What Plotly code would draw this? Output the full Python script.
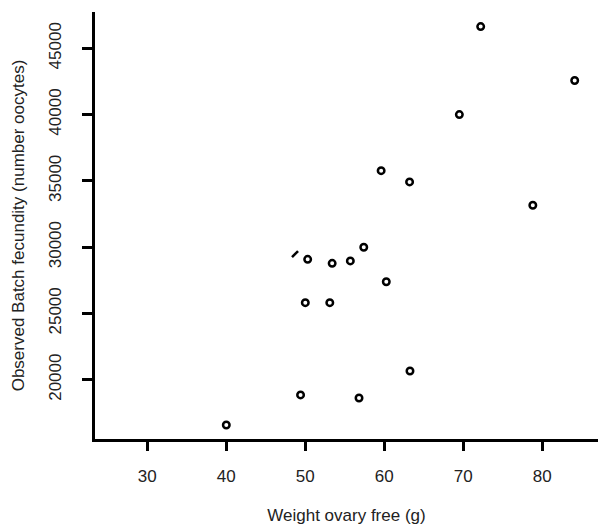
import plotly.graph_objects as go

# Data
weight_ovary = [40.0, 49.4, 56.8, 63.25, 50.0, 53.1, 60.25, 50.3, 53.4, 55.7, 57.4,
                59.6, 63.2, 69.5, 72.2, 84.1, 78.8]
batch_fecundity = [16580, 18850, 18620, 20660, 25810, 25810, 27390, 29080, 28780, 28960, 29990,
                   35770, 34920, 40000, 46640, 42570, 33160]
# one point that is drawn as a small stroke in the reference
odd_weight = [48.7]
odd_fecundity = [29480]

x_ticks = [30, 40, 50, 60, 70, 80]
y_ticks = [20000, 25000, 30000, 35000, 40000, 45000]

fig = go.Figure()
fig.add_trace(go.Scatter(
    x=weight_ovary, y=batch_fecundity, mode="markers",
    marker=dict(symbol="circle-open", size=6.5, color="black", line=dict(width=2.5, color="black")),
    showlegend=False))
fig.add_trace(go.Scatter(
    x=odd_weight, y=odd_fecundity, mode="markers",
    marker=dict(symbol="line-ne-open", size=6, color="black", line=dict(width=2.5, color="black")),
    showlegend=False))

font = dict(family="Liberation Sans, Arial, sans-serif", size=17, color="#222")

fig.update_layout(
    width=598, height=525,
    margin=dict(l=95, r=0, t=12, b=86),
    paper_bgcolor="white", plot_bgcolor="white",
    font=font,
    xaxis=dict(
        range=[23.38, 87.05], tickvals=x_ticks, ticktext=[str(v) for v in x_ticks],
        showgrid=False, zeroline=False, showline=True, linecolor="black", linewidth=3,
        ticks="outside", ticklen=9, tickwidth=3, tickcolor="black",
        ticklabelstandoff=11,
        title=dict(text="Weight ovary free (g)", standoff=25, font=font)),
    yaxis=dict(
        range=[15526, 47739], tickvals=y_ticks, ticktext=[str(v) for v in y_ticks],
        tickangle=-90,
        showgrid=False, zeroline=False, showline=True, linecolor="black", linewidth=3,
        ticks="outside", ticklen=10, tickwidth=3, tickcolor="black",
        ticklabelstandoff=14,
        title=dict(text="Observed Batch fecundity (number oocytes)", standoff=18, font=font)),
)

fig.write_html("out.html")
